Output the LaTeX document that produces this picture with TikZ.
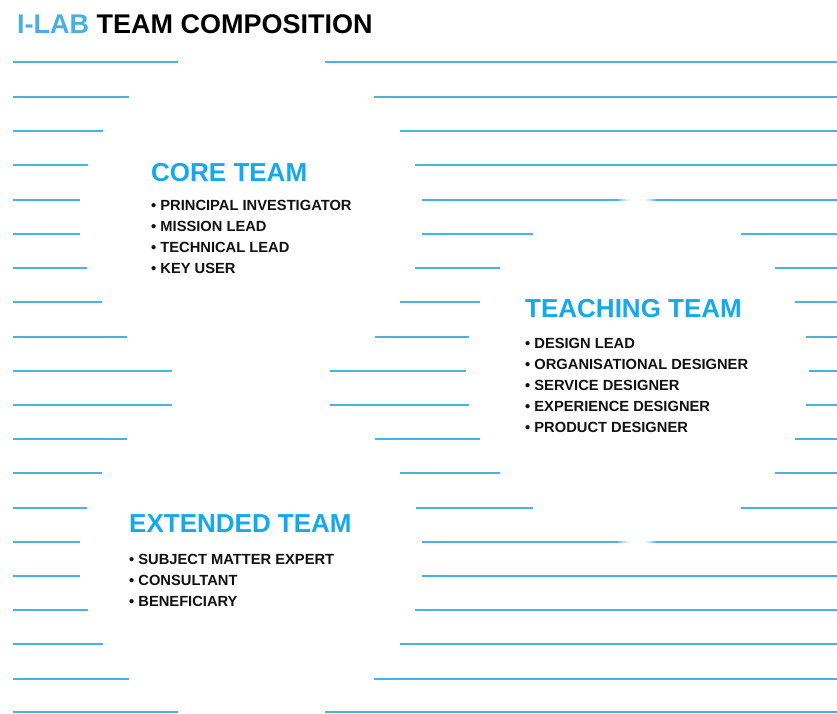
\documentclass[tikz,border=0pt]{standalone}
\usepackage{fontspec}
\setmainfont{Liberation Sans}
\definecolor{ruleblue}{HTML}{45B3E6}
\definecolor{labblue}{HTML}{4BAEE3}
\definecolor{headblue}{HTML}{14A9EE}
\definecolor{inkblack}{HTML}{111111}
\begin{document}
\begin{tikzpicture}[x=1pt,y=-1pt,
  rule/.style={draw=ruleblue, line width=1.9pt},
  wedge/.style={fill=ruleblue},
  titletext/.style={anchor=base west, inner sep=0pt, font=\bfseries\fontsize{27}{32}\selectfont},
  heading/.style={anchor=base west, inner sep=0pt, font=\bfseries\fontsize{26}{30}\selectfont, text=headblue},
  item/.style={anchor=base west, inner sep=0pt, font=\bfseries\fontsize{14.7}{17}\selectfont, text=inkblack}]
  % page
  \fill[white] (0,0) rectangle (837,713);
  \useasboundingbox (0,0) rectangle (837,713);

  % ruled background, broken by three round clearings
  \foreach \y/\a/\b in {
      62/13/178, 97/13/129, 131/13/103, 165/13/88, 200/13/80, 234/13/80,
      268/13/87, 302/13/102, 337/13/127, 371/13/172, 405/13/172, 439/13/127,
      473/13/102, 508/13/87, 542/13/80, 576/13/80, 610/13/88, 644/13/103,
      679/13/129, 712/13/178,
      62/325/837, 97/374/837, 131/400/837, 165/415/837,
      200/422/615, 200/658/837,
      234/422/533, 234/741/837,
      268/415/500, 268/775/837,
      302/400/480, 302/795/837,
      337/375/469, 337/806/837,
      371/330/466, 371/809/837,
      405/330/469, 405/806/837,
      439/375/480, 439/795/837,
      473/400/500, 473/775/837,
      508/416/533, 508/741/837,
      542/422/615, 542/658/837,
      576/422/837, 610/415/837, 644/400/837, 679/374/837, 712/325/837}
    \draw[rule] (\a,\y) -- (\b,\y);

  % tapered ends where the teaching clearing just grazes a rule
  \foreach \y in {200,542} {
    \fill[wedge] (615,\y-0.95) -- (630,\y) -- (615,\y+0.95) -- cycle;
    \fill[wedge] (658,\y-0.95) -- (645,\y) -- (658,\y+0.95) -- cycle;
  }

  % title
  \node[titletext] (title) at (17,33) {\textcolor{labblue}{I-LAB} TEAM COMPOSITION};

  % core team
  \node[heading] (coreHead) at (151,181) {CORE TEAM};
  \node[item] (core1) at (151,210.5) {• PRINCIPAL INVESTIGATOR};
  \node[item] (core2) at (151,231.5) {• MISSION LEAD};
  \node[item] (core3) at (151,252.5) {• TECHNICAL LEAD};
  \node[item] (core4) at (151,273.5) {• KEY USER};

  % teaching team
  \node[heading] (teachHead) at (525,317) {TEACHING TEAM};
  \node[item] (teach1) at (525,348) {• DESIGN LEAD};
  \node[item] (teach2) at (525,369) {• ORGANISATIONAL DESIGNER};
  \node[item] (teach3) at (525,390) {• SERVICE DESIGNER};
  \node[item] (teach4) at (525,411) {• EXPERIENCE DESIGNER};
  \node[item] (teach5) at (525,432) {• PRODUCT DESIGNER};

  % extended team
  \node[heading] (extHead) at (129,532) {EXTENDED TEAM};
  \node[item] (ext1) at (129,564.5) {• SUBJECT MATTER EXPERT};
  \node[item] (ext2) at (129,585.5) {• CONSULTANT};
  \node[item] (ext3) at (129,606.5) {• BENEFICIARY};
\end{tikzpicture}
\end{document}
